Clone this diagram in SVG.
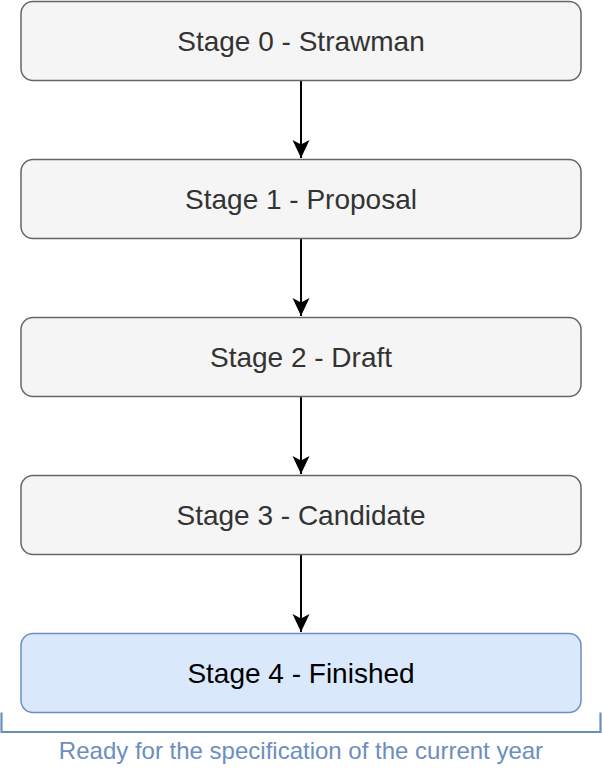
<svg xmlns="http://www.w3.org/2000/svg" width="602" height="774" viewBox="0 0 602 774">
<style>
.box{fill:#f5f5f5;stroke:#666666;stroke-width:1.5}
.fin{fill:#dae8fc;stroke:#6c8ebf;stroke-width:1.5}
.lbl{font-family:"Liberation Sans",Arial,sans-serif;font-size:28px;fill:#333333;text-anchor:middle}
.lblk{fill:#000000}
.edge{stroke:#000000;stroke-width:2;fill:none}
.brk{stroke:#6c8ebf;stroke-width:2.2;fill:none}
.note{font-family:"Liberation Sans",Arial,sans-serif;font-size:24px;fill:#6c8ebf;text-anchor:middle}
</style>
<defs>
<marker id="arr" markerUnits="userSpaceOnUse" markerWidth="20" markerHeight="20" viewBox="0 0 20 20" refX="18" refY="10" orient="auto">
<path d="M0,1.5 L18,10 L0,18.5 L4.5,10 Z" fill="#000000"/>
</marker>
</defs>
<g id="connectors">
<line class="edge" x1="301" y1="81" x2="301" y2="158" marker-end="url(#arr)"/>
<line class="edge" x1="301" y1="239" x2="301" y2="316" marker-end="url(#arr)"/>
<line class="edge" x1="301" y1="397" x2="301" y2="474" marker-end="url(#arr)"/>
<line class="edge" x1="301" y1="555" x2="301" y2="632" marker-end="url(#arr)"/>
</g>
<g id="stage0">
<rect class="box" x="21" y="1.5" width="560" height="79" rx="12"/>
<text class="lbl" x="301" y="51">Stage 0 - Strawman</text>
</g>
<g id="stage1">
<rect class="box" x="21" y="159.5" width="560" height="79" rx="12"/>
<text class="lbl" x="301" y="209">Stage 1 - Proposal</text>
</g>
<g id="stage2">
<rect class="box" x="21" y="317.5" width="560" height="79" rx="12"/>
<text class="lbl" x="301" y="367">Stage 2 - Draft</text>
</g>
<g id="stage3">
<rect class="box" x="21" y="475.5" width="560" height="79" rx="12"/>
<text class="lbl" x="301" y="525">Stage 3 - Candidate</text>
</g>
<g id="stage4">
<rect class="fin" x="21" y="633.5" width="560" height="79" rx="12"/>
<text class="lbl lblk" x="301" y="683">Stage 4 - Finished</text>
</g>
<g id="bracket">
<path class="brk" d="M1.5,712.5 V732 H600.5 V712.5"/>
<text class="note" x="301" y="758.5">Ready for the specification of the current year</text>
</g>
</svg>
